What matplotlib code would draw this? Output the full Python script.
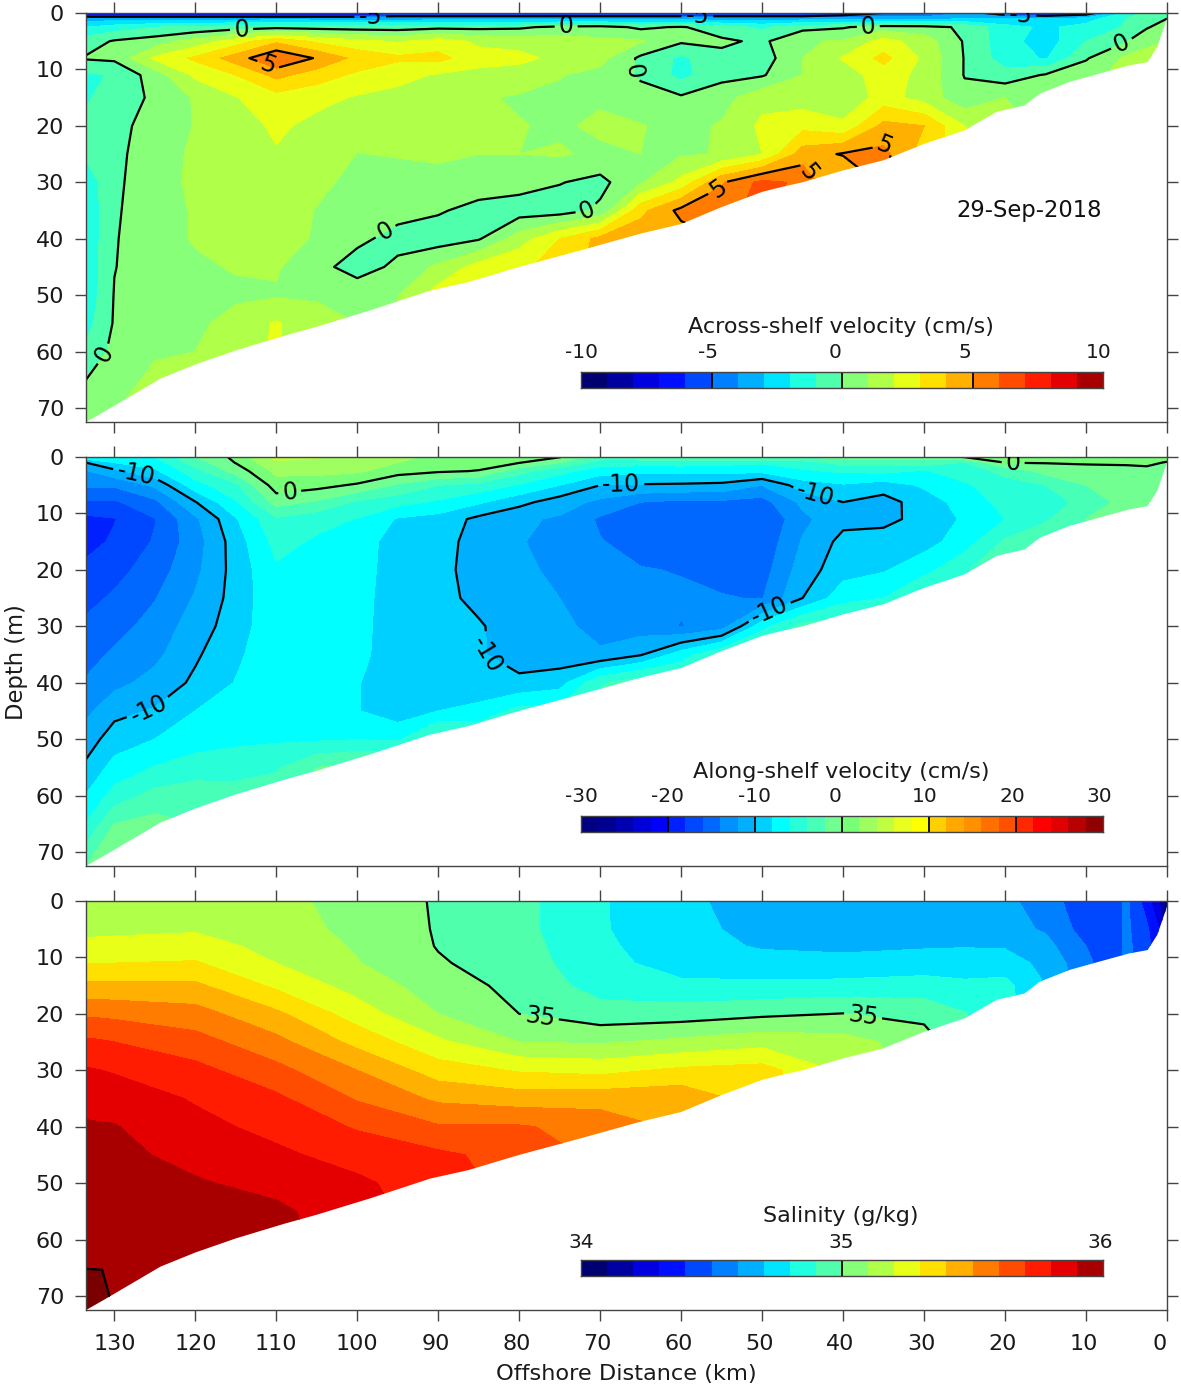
import numpy as np
import matplotlib
matplotlib.use("Agg")
import matplotlib.pyplot as plt
from matplotlib.patches import Polygon
from matplotlib.transforms import ScaledTranslation

W, H = 1181, 1385

# ---- sea floor (km offshore, depth m)
floor_km = [133.5, 131.3, 124.3, 120, 115, 109, 105, 98.4, 91, 86.3, 80, 72.5, 65, 60, 55, 50, 47.5, 45, 40, 35, 30, 25, 21, 17.6, 15.7, 12, 9, 4.7, 2.4, 1.2, 0]
floor_depth = [72.5, 70.7, 64.8, 62.3, 59.8, 57.2, 55.6, 52.7, 49.2, 47.7, 45, 42.1, 39.1, 37.4, 34.4, 31.7, 30.8, 30, 27.9, 26.1, 23.2, 20.8, 17.5, 16.4, 14.3, 12.2, 11, 9.3, 8.7, 6, 1]

# ---- velocity sections
vel_km = [133.5, 130, 125, 120, 115, 110, 105, 100, 95, 90, 85, 80, 75, 70, 65, 60, 55, 50, 45, 40, 35, 30, 25, 20, 15, 10, 5, 2.5, 0]
vel_depth = [0, 1, 2.5, 5, 8, 11, 15, 20, 25, 30, 35, 40, 45, 50, 55, 60, 65, 72.5]

across_columns = [
    [-8, -3.5, -2, -.5, .1, -1.2, -1.1, -.8, -.9, -1.6, -1.8, -1.8, -1.8, -1.7, -1.4, -.8, 0, .6],
    [-8, -3.5, -1.5, .1, .2, -.9, -.6, -.35, -.28, -.2, -.12, -.06, -.03, .05, .1, .3, .6, 1.1],
    [-8, -3.5, -1, .5, 2.2, .5, .2, .45, .6, .6, .55, .5, .5, .5, .7, .9, 1.2, 1.3],
    [-8, -3.5, -.8, 1.4, 3.2, 2.2, 1.1, 1.05, 1.15, 1.2, 1.1, 1.1, .8, .6, .7, 1, 1.2, 1.3],
    [-8, -3.5, -.5, 2.5, 4.5, 3, 1.95, 1.5, 1.4, 1.4, 1.4, 1.3, 1.1, .75, 1.5, 1.6, 1.7],
    [-8, -3.5, -.3, 3.8, 6, 4.3, 2.6, 2.2, 1.9, 1.7, 1.6, 1.4, 1.1, .9, 2.1, 2.1],
    [-8, -3.5, -.4, 2.8, 4.9, 3.5, 2.3, 1.7, 1.5, 1.25, .95, .9, .3, .9, 1.3, 1.4],
    [-8, -3.5, -.5, 2.3, 3.7, 2.8, 1.9, 1.35, .98, .7, .55, .2, -.4, .6, 1, 1.1],
    [-7, -3.5, -.5, 1.9, 3.2, 2.3, 1.7, 1.3, 1.05, .7, .3, -.3, .2, .95, 1.1],
    [-7, -3.5, -.3, 2.5, 3.3, 1.9, 1.6, 1.3, 1.1, .8, .1, -.5, 1.2, 2.5, 2.5],
    [-7, -3.5, -.3, 1.8, 2.4, 1.7, 1.1, 1.1, 1, .5, -.3, -.1, 2.4, 2.5],
    [-7, -3.5, -.2, 1.6, 2.3, 1.5, .9, 1.05, 1, .4, -.5, 1.5, 2.9, 3],
    [-7, -3.5, .3, 1.5, 1.7, 1.05, .8, .85, 1.1, .05, -.5, 3, 3.2],
    [-7, -3.5, .4, 1.2, 1.3, .7, .85, 1.2, .8, -.3, .2, 4.3, 4.5],
    [-7, -3.5, -.2, 1.1, -.2, -.15, .4, 1.05, 1, .9, 3.7, 4.7],
    [-7, -3.5, .1, .15, -1.2, -1.3, .15, .7, .9, 2.3, 5.3, 4.5],
    [-7, -3.5, -.6, .2, -.3, -.3, .6, 1.1, 1.05, 4.9, 5.5, 5],
    [-7, -3.5, -1.2, -.2, -.5, -.1, 1.7, 2.2, 2, 6.3, 6.5],
    [-7, -3.5, -.3, .9, 1, 1, 1.5, 2.7, 4.5, 5.8, 4.5],
    [-6, -3.5, -.1, 1.1, 2.1, 1.5, 1.3, 2.2, 5.1, 3.5],
    [-5, -3.5, .5, 2.4, 3.3, 2.5, 2.4, 4.3, 5.3, 5.3],
    [-5, -3.5, .4, 1.5, 1.8, 1.7, 1.6, 4, 3.5],
    [-4, -3, -.2, -.1, -.05, -.05, .3, 2, 2.5],
    [-6, -3, -1.6, -1.6, -1.5, -.6, 1, 1.5],
    [-7, -3, -2.2, -2.5, -2.1, .1, .6],
    [-6, -2.5, -1.6, -1, -.1, .6],
    [-1.5, -1, -.9, -.05, 1.2, 1.4],
    [-.8, -.7, -.1, .8, 1.3, 1.5],
    [-.3, 0, .5, 1, 1.2],
]

along_columns = [
    [-6.7, -10, -12.2, -13.7, -16.3, -18.5, -18.7, -17.5, -16.6, -15.6, -14.7, -13.8, -12.5, -11, -9.6, -7.9, -5.9, -2],
    [-6.7, -8, -10.5, -13.7, -16.3, -18.1, -17.7, -16.7, -15.7, -14.7, -13.7, -12.6, -10.6, -9, -7.3, -5.2, -2, .3],
    [-6, -7, -8.4, -11.6, -14.5, -16.1, -15.8, -15, -14.1, -13.3, -12.5, -11.3, -9.8, -8, -5.9, -3.3, -1.3, -.7],
    [-2, -3.1, -4.7, -6.8, -10.1, -12.4, -12.9, -12.5, -11.8, -11, -10.3, -9.6, -8, -6.8, -5.2, -2.7, -2],
    [.5, .1, -1.2, -4.5, -6.2, -8.2, -9, -9.2, -9.2, -9, -8.4, -7.9, -7.3, -6.5, -4.7, -3.3],
    [4.7, 3.7, 2.5, 1.1, -1.2, -4.3, -5.3, -6.3, -6.5, -6.5, -6.6, -6.7, -6.7, -6.3, -4.3, -2.7],
    [4.1, 3.6, 2.6, .7, -2.3, -5.3, -6.3, -6.7, -6.8, -6.9, -7, -7.1, -7.2, -6.3, -2, -.7],
    [3.7, 3.3, 2.3, -.3, -4.3, -6.1, -6.9, -7.1, -7.3, -7.4, -7.5, -7.9, -7.9, -6.1, -1.3],
    [2.3, 2, .9, -2.3, -5.3, -8.2, -9, -9, -9, -9, -9, -9, -9.2, -6.3, -1.3],
    [1.7, 1.2, .3, -4, -6.3, -8.8, -9.2, -9.4, -9.4, -9.4, -9.4, -9, -8, -2.7],
    [1.3, .8, -.1, -4.7, -7.7, -10.5, -10.8, -10.8, -10.5, -9.8, -9.8, -9.6, -7.3, -4],
    [1, .1, -3.3, -6.2, -9.4, -11.6, -11.9, -11.7, -11.3, -11, -10.8, -9.6, -5.3, -4],
    [.1, -2, -5.3, -8, -11, -12.3, -12.5, -12.3, -12, -11.5, -11.2, -8.8, -5.3],
    [-3.3, -4.9, -7.1, -10, -12.5, -14.3, -13.9, -13.5, -13.1, -12.7, -11.7, -4.3, -2.7],
    [-2.7, -5.1, -7.5, -10.2, -14, -14.7, -14.7, -13.9, -13.5, -13, -10.2, -2.7],
    [-2, -5, -7.5, -10.3, -14.5, -15.2, -15.2, -14.1, -13.7, -14.1, -7, -3.3],
    [-2, -5.3, -7.5, -10.5, -14.4, -15.3, -15.3, -14.5, -13.9, -13, -4, -2.7],
    [-2, -5.7, -7.5, -12, -14.8, -16.03, -15.5, -14.9, -14.1, -6.7, -2.7],
    [-2, -5, -6.3, -9, -11.5, -12.5, -11.8, -11, -10, -3.3, -2.7],
    [-1.3, -3.3, -5.7, -8.2, -10, -10.6, -9.4, -8.8, -6.8, -2.7],
    [-1.3, -3.1, -5.5, -9, -10.8, -10.5, -9.2, -8.2, -6, -4],
    [-1.3, -2.8, -6.2, -7.7, -9, -9.4, -8.8, -6.7, -3.3],
    [.1, -4.1, -5, -6.3, -7.2, -7.7, -7, -4.3, -4],
    [.5, 0, -3.5, -4.7, -5.3, -6, -3.7, -2],
    [.5, .1, -1.3, -4, -4.6, -4.3, -2.4],
    [.7, .3, -1.1, -2, -3.6, -2],
    [.7, .3, -.7, -1.3, -1.1, -.5],
    [.7, .3, -.4, -.8, -.7, -.3],
    [.5, -.1, -.4, -.4],
]

# ---- salinity section
sal_km = [133.5, 131.5, 130, 120, 110, 100, 90, 80, 70, 60, 50, 40, 30, 25, 20, 15, 12.5, 10, 7.5, 5, 2.5, 1, 0]
sal_depth = [0, 5, 8, 11, 15, 20, 25, 30, 35, 40, 45, 50, 55, 60, 65, 72.5]
sal_columns = [
    [35.17, 35.19, 35.21, 35.30, 35.42, 35.585, 35.72, 35.81, 35.87, 35.91, 35.93, 35.95, 35.96, 35.98, 35.995, 36.2],
    [35.165, 35.185, 35.22, 35.30, 35.42, 35.58, 35.71, 35.80, 35.865, 35.907, 35.927, 35.945, 35.955, 35.97, 35.995, 36.1],
    [35.16, 35.18, 35.23, 35.30, 35.42, 35.575, 35.70, 35.79, 35.86, 35.905, 35.925, 35.94, 35.95, 35.96, 35.97, 35.99],
    [35.16, 35.19, 35.24, 35.31, 35.42, 35.54, 35.64, 35.73, 35.79, 35.83, 35.87, 35.91, 35.93, 35.94, 35.95],
    [35.13, 35.15, 35.17, 35.20, 35.28, 35.42, 35.53, 35.63, 35.72, 35.77, 35.82, 35.87, 35.92, 35.93],
    [35.06, 35.07, 35.09, 35.105, 35.16, 35.25, 35.37, 35.50, 35.59, 35.69, 35.76, 35.82, 35.84, 35.85],
    [34.99, 34.992, 34.995, 35.01, 35.05, 35.10, 35.22, 35.35, 35.48, 35.61, 35.72, 35.74, 35.75],
    [34.93, 34.93, 34.94, 34.95, 34.97, 35.0, 35.10, 35.29, 35.45, 35.61, 35.66, 35.67],
    [34.81, 34.81, 34.82, 34.83, 34.86, 34.94, 35.09, 35.27, 35.46, 35.56, 35.58],
    [34.72, 34.73, 34.74, 34.76, 34.82, 34.95, 35.125, 35.32, 35.47, 35.48],
    [34.66, 34.67, 34.69, 34.74, 34.82, 34.98, 35.165, 35.34, 35.35],
    [34.66, 34.66, 34.68, 34.73, 34.83, 35.003, 35.14, 35.18],
    [34.66, 34.665, 34.69, 34.75, 34.84, 34.97, 35.05],
    [34.64, 34.66, 34.695, 34.75, 34.82, 34.905, 34.92],
    [34.62, 34.63, 34.69, 34.75, 34.83, 34.84],
    [34.56, 34.59, 34.63, 34.67, 34.70],
    [34.49, 34.52, 34.57, 34.6, 34.62],
    [34.43, 34.46, 34.5, 34.54, 34.55],
    [34.43, 34.43, 34.43, 34.43],
    [34.52, 34.52, 34.52, 34.52],
    [34.35, 34.42, 34.45, 34.45],
    [34.2, 34.3, 34.3],
    [34.02, 34.15, 34.15],
]

across_labels = [(98.4, .5), (114.3, 2.3), (74.2, 2.4), (58, .4), (36.9, 2), (18.1, .4), (5.6, 5.5), (66.5, 10.3),
                 (111, 9.2), (131.2, 60.5), (96.4, 39), (71.7, 34.4), (54.6, 33.3), (45.2, 29.3), (35, 23.6)]
along_labels = [(127.3, 2.7), (108.3, 6.7), (67.4, 5.3), (43.5, 6.9), (19, 1.2), (125.7, 45), (85.4, 36.3), (48.9, 28.2)]
sal_labels = [(77.5, 21), (37.5, 20)]

x_ticks = list(range(130, -1, -10))
x_tick_labels = [str(v) for v in x_ticks]
y_ticks = list(range(0, 71, 10))

colors20 = ["#000070", "#0000A0", "#0000E0", "#0010FF", "#0048FF", "#0080FF", "#00B0FF", "#00E4FF", "#20FFE0", "#50FFAC",
            "#88FF78", "#B0FF48", "#E8FF18", "#FFE000", "#FFB000", "#FF7C00", "#FF4C00", "#FF1C00", "#E40000", "#A80000"]
colors30 = ["#000080", "#000090", "#0000B0", "#0000D8", "#0000FF", "#0020FF", "#0048FF", "#0068FF", "#0090FF", "#00B0FF",
            "#00D0FF", "#00FFFF", "#28FFD8", "#48FFB8", "#70FF90", "#78FF78", "#A0FF60", "#C0FF40", "#E8FF20", "#FFFF00",
            "#FFD000", "#FFA800", "#FF9000", "#FF7000", "#FF5000", "#FF2800", "#FF0000", "#E00000", "#B80000", "#900000"]

panels = [
    dict(km=vel_km, depth=vel_depth, cols=across_columns, lo=-10, hi=10, colors=colors20, lines=[-5, 0, 5], labels=across_labels,
         top=13, title="Across-shelf velocity (cm/s)", title_x=841, title_y=327, bar_y=353,
         bar_ticks=[-10, -5, 0, 5, 10], bar_x=[581, 708, 835, 965, 1099]),
    dict(km=vel_km, depth=vel_depth, cols=along_columns, lo=-30, hi=30, colors=colors30, lines=[-10, 0], labels=along_labels,
         top=457, title="Along-shelf velocity (cm/s)", title_x=841, title_y=772, bar_y=797,
         bar_ticks=[-30, -20, -10, 0, 10, 20, 30], bar_x=[581, 668, 755, 835, 925, 1012, 1099]),
    dict(km=sal_km, depth=sal_depth, cols=sal_columns, lo=34, hi=36, colors=colors20, lines=[35, 36], labels=sal_labels,
         top=901, title="Salinity (g/kg)", title_x=841, title_y=1216, bar_y=1242,
         bar_ticks=[34, 35, 36], bar_x=[581, 841, 1100]),
]

plt.rcParams["font.family"] = "DejaVu Sans"
fig = plt.figure(figsize=(W / 100, H / 100), dpi=100)
edge = "#444444"


def fx(px):
    return px / W


def fy(py):
    return 1 - py / H


for i, p in enumerate(panels):
    ax = fig.add_axes([fx(86), fy(p["top"] + 408.5), (1167 - 86) / W, 408.5 / H])
    grid = np.array([list(c) + [c[-1]] * (len(p["depth"]) - len(c)) for c in p["cols"]], dtype=float).T
    n = len(p["colors"])
    levels = np.linspace(p["lo"], p["hi"], n + 1)
    cf = ax.contourf(p["km"], p["depth"], grid, levels=levels,
                     colors=[p["colors"][0]] + p["colors"] + ["#7A0000"], extend="both")
    cs = ax.contour(p["km"], p["depth"], grid, levels=p["lines"], colors="black", linewidths=1.6, linestyles="solid")
    ax.clabel(cs, manual=p["labels"], fmt="%g", fontsize=17, inline=True, inline_spacing=4)
    verts = list(zip(floor_km, floor_depth)) + [(0, 0), (133.5, 0)]
    clip = Polygon(verts, closed=True, transform=ax.transData)
    cf.set_clip_path(clip)
    cs.set_clip_path(clip)
    ax.set_xlim(133.5, 0)
    ax.set_ylim(72.4, 0)
    ax.set_xticks(x_ticks)
    ax.set_yticks(y_ticks)
    ax.tick_params(axis="both", which="both", direction="out", length=7.8, width=1, color=edge,
                   top=True, right=True, bottom=True, left=True, labelsize=16, labelcolor="#1a1a1a")
    ax.tick_params(axis="y", pad=8)
    ax.tick_params(axis="x", pad=10)
    if i == 2:
        ax.set_xticklabels(x_tick_labels)
        for lab, txt in zip(ax.get_xticklabels(), x_tick_labels):
            dx = {3: 0, 2: -2.5, 1: -7}[len(txt)]
            lab.set_transform(lab.get_transform() + ScaledTranslation(dx / 100, 0, fig.dpi_scale_trans))
    else:
        ax.set_xticklabels([])
    for s in ax.spines.values():
        s.set_color(edge)
        s.set_linewidth(1)

    # colour bar
    bar = fig.add_axes([fx(581), fy(p["top"] + 375), 522 / W, 16 / H])
    for j, c in enumerate(p["colors"]):
        bar.axvspan(levels[j], levels[j + 1], color=c, lw=0)
    bar.set_xlim(p["lo"], p["hi"])
    bar.set_yticks([])
    bar.set_xticks([])
    for v in p["bar_ticks"][1:-1]:
        bar.axvline(v, color="black", lw=1.3)
    for s in bar.spines.values():
        s.set_color(edge)
        s.set_linewidth(1)
    for v, px in zip(p["bar_ticks"], p["bar_x"]):
        fig.text(fx(px), fy(p["bar_y"]), f"{v:g}", ha="center", va="center", fontsize=14.5, color="#1a1a1a")
    fig.text(fx(p["title_x"]), fy(p["title_y"]), p["title"], ha="center", va="center", fontsize=16, color="#1a1a1a")

fig.text(fx(1029), fy(210), "29-Sep-2018", ha="center", va="center", fontsize=16.3, color="#111111")
fig.text(fx(17), fy(662), "Depth (m)", rotation=90, ha="center", va="center", fontsize=16.3, color="#1a1a1a")
fig.text(fx(626), fy(1374), "Offshore Distance (km)", ha="center", va="center", fontsize=16.2, color="#1a1a1a")

fig.savefig("out.png", dpi=100)
